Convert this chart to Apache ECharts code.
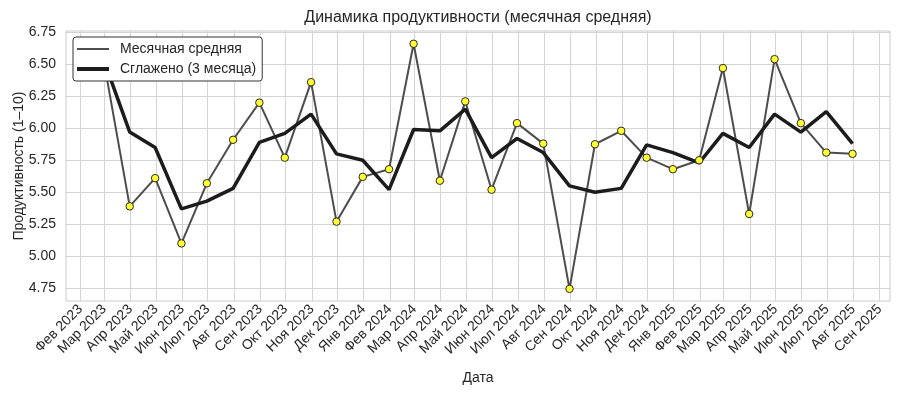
<!DOCTYPE html>
<html>
<head>
<meta charset="utf-8">
<script src="https://cdn.jsdelivr.net/npm/echarts@6/dist/echarts.min.js"></script>
<style>html,body{margin:0;padding:0;background:#fff;}#chart{width:900px;height:394px;}</style>
</head>
<body>
<div id="chart"></div>
<script>
// ---- data ----
const months = ['2023-02-28','2023-03-31','2023-04-30','2023-05-31','2023-06-30','2023-07-31','2023-08-31','2023-09-30','2023-10-31','2023-11-30','2023-12-31',
  '2024-01-31','2024-02-29','2024-03-31','2024-04-30','2024-05-31','2024-06-30','2024-07-31','2024-08-31','2024-09-30','2024-10-31','2024-11-30','2024-12-31',
  '2025-01-31','2025-02-28','2025-03-31','2025-04-30','2025-05-31','2025-06-30','2025-07-31'];
const monthlyAvg = [6.54, 5.39, 5.61, 5.10, 5.57, 5.91, 6.20, 5.77, 6.36, 5.27, 5.62,
  5.68, 6.66, 5.59, 6.21, 5.52, 6.04, 5.88, 4.745, 5.875, 5.98, 5.77, 5.68,
  5.75, 6.47, 5.33, 6.54, 6.04, 5.81, 5.80];
const smoothed3 = [6.54, 5.97, 5.85, 5.37, 5.43, 5.53, 5.89, 5.96, 6.11, 5.80, 5.75,
  5.52, 5.99, 5.98, 6.15, 5.77, 5.92, 5.81, 5.55, 5.50, 5.53, 5.87, 5.81,
  5.73, 5.96, 5.85, 6.11, 5.97, 6.13, 5.88];
const tickDates = ['2023-02-01','2023-03-01','2023-04-01','2023-05-01','2023-06-01','2023-07-01','2023-08-01','2023-09-01','2023-10-01','2023-11-01','2023-12-01',
  '2024-01-01','2024-02-01','2024-03-01','2024-04-01','2024-05-01','2024-06-01','2024-07-01','2024-08-01','2024-09-01','2024-10-01','2024-11-01','2024-12-01',
  '2025-01-01','2025-02-01','2025-03-01','2025-04-01','2025-05-01','2025-06-01','2025-07-01','2025-08-01','2025-09-01'];
const tickLabels = ['Фев 2023','Мар 2023','Апр 2023','Май 2023','Июн 2023','Июл 2023','Авг 2023','Сен 2023','Окт 2023','Ноя 2023','Дек 2023',
  'Янв 2024','Фев 2024','Мар 2024','Апр 2024','Май 2024','Июн 2024','Июл 2024','Авг 2024','Сен 2024','Окт 2024','Ноя 2024','Дек 2024',
  'Янв 2025','Фев 2025','Мар 2025','Апр 2025','Май 2025','Июн 2025','Июл 2025','Авг 2025','Сен 2025'];
const yTicks = [4.75, 5.00, 5.25, 5.50, 5.75, 6.00, 6.25, 6.50, 6.75];

// ---- build ----
const DAY = 86400000;
const dayNum = s => new Date(s + 'T00:00:00Z').getTime() / DAY;
const tickDays = tickDates.map(dayNum);
const labelByDay = {};
tickDays.forEach((t, i) => { labelByDay[t] = tickLabels[i]; });
const first = dayNum(months[0]), last = dayNum(months[months.length - 1]);
const span = last - first;
const xMin = first - 0.05 * span, xMax = last + 0.05 * span;

const monthlyData = months.map((m, i) => [dayNum(m), monthlyAvg[i]]);
const smoothData = months.map((m, i) => [dayNum(m), smoothed3[i]]);

const FONT = "'Liberation Sans', Arial, sans-serif";
const TXT = '#262626';
const GRID = '#d4d4d4';

const chart = echarts.init(document.getElementById('chart'), null, {renderer: 'canvas'});
chart.setOption({
  animation: false,
  backgroundColor: '#ffffff',
  textStyle: {fontFamily: FONT},
  title: {
    text: 'Динамика продуктивности (месячная средняя)',
    left: 473, top: 5, textAlign: 'center',
    textStyle: {fontSize: 16, fontWeight: 'normal', color: TXT, fontFamily: FONT}
  },
  legend: {
    orient: 'vertical',
    left: 73, top: 37, z: 20,
    padding: [5, 6, 5, 4],
    itemGap: 6,
    itemWidth: 32, itemHeight: 14,
    backgroundColor: '#ffffff',
    borderColor: '#333333', borderWidth: 1, borderRadius: 3,
    textStyle: {fontSize: 14, color: TXT, fontFamily: FONT, padding: [0, 0, 0, 6]},
    data: [
      {name: 'Месячная средняя', icon: 'path://M0,0H32V2H0Z', itemStyle: {color: '#4d4d4d', borderWidth: 0}},
      {name: 'Сглажено (3 месяца)', icon: 'path://M0,0H32V4H0Z', itemStyle: {color: '#1c1c1c', borderWidth: 0}}
    ]
  },
  grid: {left: 66, right: 10, top: 31, bottom: 93, show: true, borderColor: '#cccccc', borderWidth: 1, outerBoundsMode: 'none'},
  xAxis: {
    type: 'value',
    min: xMin, max: xMax,
    name: 'Дата', nameLocation: 'middle', nameGap: 70, nameMoveOverlap: false,
    nameTextStyle: {fontSize: 14, color: TXT, fontFamily: FONT},
    axisLine: {show: false},
    axisTick: {show: false, customValues: tickDays},
    axisLabel: {
      customValues: tickDays, rotate: 45, margin: 6, hideOverlap: false,
      fontSize: 14, color: TXT, fontFamily: FONT,
      formatter: v => labelByDay[Math.round(v)] || ''
    },
    splitLine: {show: true, lineStyle: {color: GRID, width: 1}}
  },
  yAxis: {
    type: 'value',
    min: 4.65, max: 6.76,
    name: 'Продуктивность (1–10)', nameLocation: 'middle', nameGap: 40, nameMoveOverlap: false,
    nameTextStyle: {fontSize: 14, color: TXT, fontFamily: FONT},
    axisLine: {show: false},
    axisTick: {show: false, customValues: yTicks},
    axisLabel: {customValues: yTicks, margin: 10, fontSize: 14, color: TXT, fontFamily: FONT,
      formatter: v => Number(v).toFixed(2)},
    splitLine: {show: true, lineStyle: {color: GRID, width: 1}}
  },
  series: [
    {
      name: 'Месячная средняя', type: 'line', data: monthlyData, z: 2,
      symbol: 'none', lineStyle: {color: '#4d4d4d', width: 2}, itemStyle: {color: '#4d4d4d'}
    },
    {
      name: 'Сглажено (3 месяца)', type: 'line', data: smoothData, z: 3,
      symbol: 'none', lineStyle: {color: '#1c1c1c', width: 3.5}, itemStyle: {color: '#1c1c1c'}
    },
    {
      name: 'points', type: 'scatter', data: monthlyData, z: 4,
      symbol: 'circle', symbolSize: 7.5,
      itemStyle: {color: '#ffff33', borderColor: '#2a2a2a', borderWidth: 1, opacity: 1}
    }
  ]
});
</script>
</body>
</html>
